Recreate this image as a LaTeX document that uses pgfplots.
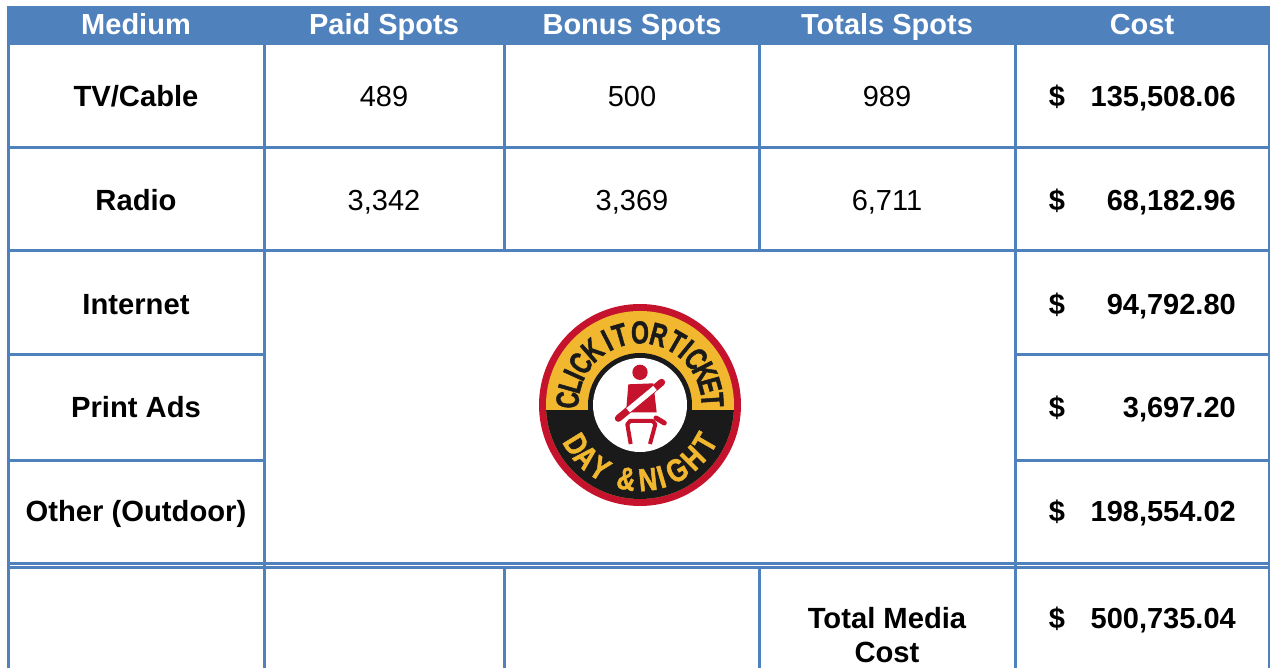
\documentclass[border=0pt]{standalone}
\usepackage{fontspec}
\setmainfont{Liberation Sans}
\newfontfamily\logotop[FakeStretch=0.72,FakeBold=1.5]{Liberation Sans Bold}
\newfontfamily\logobot[FakeStretch=0.8,FakeBold=1.5]{Liberation Sans Bold}
\usepackage{pgfplots}
\pgfplotsset{compat=1.18}
\definecolor{hdr}{HTML}{4F81BD}
\definecolor{logored}{HTML}{C5122D}
\definecolor{logoyel}{HTML}{F0B72F}
\definecolor{logoblk}{HTML}{1A1A1A}

\begin{document}
\begin{tikzpicture}
\useasboundingbox (0,0) rectangle (1270pt,668pt);
\begin{axis}[
at={(0,0)}, anchor=south west,
scale only axis, width=1270pt, height=668pt,
xmin=0, xmax=1270, ymin=0, ymax=668, y dir=reverse,
hide axis,
rule/.style={draw=hdr, line width=3pt, no marks},
cell/.style={only marks, mark=none, point meta=explicit symbolic, nodes near coords,
  every node near coord/.append style={anchor=base, inner sep=0pt, font=\fontsize{29}{32}\selectfont, text=black, #1}},
]
% header band
\addplot[draw=none, fill=hdr, no marks] coordinates {(7,6) (1270,6) (1270,45) (7,45)} --cycle;
% outer and column rules
\addplot[rule] coordinates {(8.5,6) (8.5,668)};
\addplot[rule] coordinates {(264.5,45) (264.5,668)};
\addplot[rule] coordinates {(504.5,45) (504.5,251)};
\addplot[rule] coordinates {(504.5,567) (504.5,668)};
\addplot[rule] coordinates {(759.5,45) (759.5,251)};
\addplot[rule] coordinates {(759.5,567) (759.5,668)};
\addplot[rule] coordinates {(1015,45) (1015,668)};
\addplot[rule] coordinates {(1269.5,6) (1269.5,668)};
% row rules
\addplot[rule] coordinates {(8,148) (1270,148)};
\addplot[rule] coordinates {(8,251) (1270,251)};
\addplot[rule] coordinates {(8,355) (264.5,355)};
\addplot[rule] coordinates {(1015,355) (1270,355)};
\addplot[rule] coordinates {(8,460) (264.5,460)};
\addplot[rule] coordinates {(1015,460) (1270,460)};
\addplot[rule] coordinates {(8,563) (1270,563)};
\addplot[rule] coordinates {(8,567) (1270,567)};
% header text
\addplot[cell={text=white, font=\fontsize{29}{32}\selectfont\bfseries}] table[meta=label] {
x y label
136 35 Medium
384 35 {Paid Spots}
632 35 {Bonus Spots}
887 35 {Totals Spots}
1142 35 Cost
};
% first column and total label
\addplot[cell={font=\fontsize{29.2}{32}\selectfont\bfseries}] table[meta=label] {
x y label
136 106.5 TV/Cable
136 210.5 Radio
136 314.5 Internet
136 417.5 {Print Ads}
136 521.5 {Other (Outdoor)}
887 628.5 {Total Media}
887 662.5 Cost
};
% spot counts
\addplot[cell={}] table[meta=label] {
x y label
384 106.5 489
632 106.5 500
887 106.5 989
384 210.5 3,342
632 210.5 3,369
887 210.5 6,711
};
% dollar signs
\addplot[cell={font=\fontsize{29}{32}\selectfont\bfseries}] table[meta=label] {
x y label
1057 106.5 \$
1057 210.5 \$
1057 314.5 \$
1057 417.5 \$
1057 521.5 \$
1057 628.5 \$
};
% cost values
\addplot[cell={anchor=base east, font=\fontsize{29}{32}\selectfont\bfseries}] table[meta=label] {
x y label
1236 106.5 135,508.06
1236 210.5 68,182.96
1236 314.5 94,792.80
1236 417.5 3,697.20
1236 521.5 198,554.02
1236 628.5 500,735.04
};
\end{axis}
% logo, drawn in picture units with its centre at the origin
\begin{scope}[shift={(640pt,263pt)}, x=1pt, y=1pt]
\fill[logored] (0,0) circle (101);
\fill[logoyel] (0,0) circle (94);
\begin{scope}
\clip (-101,-5.7) rectangle (101,-101);
\fill[logoblk] (0,0) circle (94);
\end{scope}
\fill[logoblk] (0,0) circle (52);
\fill[white] (0,0) circle (47);
\foreach \a/\l in {176/C,164/L,155.5/I,145/C,131/K,117/I,106/T,90/O,75/R,60/T,50.5/I,39.5/C,27/K,15.5/E,4/T}
  \node[inner sep=0pt, rotate=\a-90, text=logoblk, font=\logotop\fontsize{32}{32}\selectfont] at (\a:72.5) {\l};
\foreach \a/\l in {211.6/D,224/A,237.7/Y,259.7/\&,276/N,286.5/I,299.5/G,315/H,330/T}
  \node[inner sep=0pt, rotate=\a+90, text=logoyel, font=\logobot\fontsize{32}{32}\selectfont] at (\a:75) {\l};
\end{scope}
% seated figure, in pixels x3 from the corner of its crop
\begin{scope}[shift={(600pt,313pt)}, x=1pt/3, y=-1pt/3]
\fill[logored] (120,52) circle (23);
\fill[logored] (85,88) -- (160,85) -- (170,172) -- (78,172) -- cycle;
\draw[logored, line width=7pt, line cap=round] (55,190) -- (185,82);
\draw[white, line width=5.5pt] (84,166) -- (165,99);
\draw[logored, line width=5pt, line cap=round] (168,189) -- (193,204);
\draw[logored, line width=4pt, line join=round] (92,267) -- (82,208) -- (90,198) -- (158,198) -- (166,208) -- (150,267);
\end{scope}
\end{tikzpicture}
\end{document}
